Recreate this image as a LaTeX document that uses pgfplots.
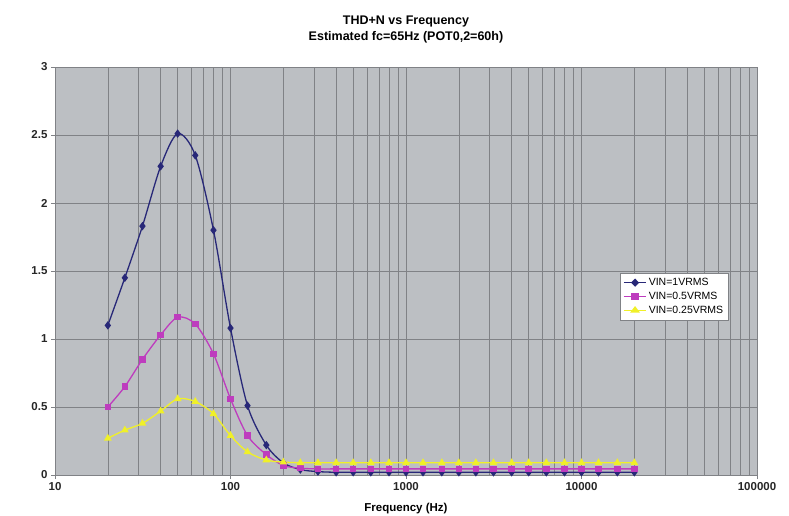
\documentclass[border=0pt]{standalone}
\usepackage{fontspec}
\setmainfont{Liberation Sans}
\usepackage{pgfplots}
\pgfplotsset{compat=1.18}
\definecolor{bgc}{RGB}{188,191,195}
\definecolor{gridc}{RGB}{128,130,134}
\definecolor{c1}{RGB}{40,40,120}
\definecolor{c2}{RGB}{190,60,190}
\definecolor{c3}{RGB}{240,240,40}
\pgfplotstableread{
f v1 v2 v3
20 1.10 0.50 0.27
25 1.45 0.65 0.33
31.5 1.83 0.85 0.38
40 2.27 1.03 0.47
50 2.51 1.16 0.56
63 2.35 1.11 0.54
80 1.80 0.89 0.45
100 1.08 0.56 0.29
125 0.51 0.29 0.17
160 0.22 0.15 0.11
200 0.09 0.07 0.095
250 0.04 0.05 0.09
315 0.025 0.045 0.09
400 0.02 0.045 0.09
500 0.02 0.045 0.09
630 0.02 0.045 0.09
800 0.02 0.045 0.09
1000 0.02 0.045 0.09
1250 0.02 0.045 0.09
1600 0.02 0.045 0.09
2000 0.02 0.045 0.09
2500 0.02 0.045 0.09
3150 0.02 0.045 0.09
4000 0.02 0.045 0.09
5000 0.02 0.045 0.09
6300 0.02 0.045 0.09
8000 0.02 0.045 0.09
10000 0.02 0.045 0.09
12500 0.02 0.045 0.09
16000 0.02 0.045 0.09
20000 0.02 0.045 0.09
}\data
\begin{document}
\begin{tikzpicture}
\path[use as bounding box] (-55pt,-41pt) rectangle (734pt,475pt);
\begin{axis}[
  at={(0,0)}, anchor=south west,
  scale only axis, width=702pt, height=408pt,
  xmode=log, xmin=10, xmax=100000, ymin=0, ymax=3,
  log basis x=10,
  xtick={10,100,1000,10000,100000},
  xticklabels={10,100,1000,10000,100000},
  minor xtick={20,30,40,50,60,70,80,90,200,300,400,500,600,700,800,900,2000,3000,4000,5000,6000,7000,8000,9000,20000,30000,40000,50000,60000,70000,80000,90000},
  ytick={0,0.5,1,1.5,2,2.5,3},
  yticklabels={0,0.5,1,1.5,2,2.5,3},
  grid=both,
  major grid style={gridc, line width=0.7pt},
  minor grid style={gridc, line width=0.6pt},
  axis background/.style={fill=bgc},
  axis line style={gridc},
  tick style={gridc},
  minor tick length=0pt,
  major tick length=4pt,
  tick pos=left,
  tick align=outside,
  ticklabel style={font=\fontsize{11.5}{13}\selectfont\bfseries, text=black!85},
  title style={align=center, font=\fontsize{12.5}{16}\selectfont\bfseries, yshift=14pt},
  title={THD+N vs Frequency\\Estimated fc=65Hz (POT0,2=60h)},
  xlabel={Frequency (Hz)},
  xlabel style={font=\fontsize{11.5}{13}\selectfont\bfseries, yshift=-6pt},
  legend style={at={(0.805,0.495)}, anchor=north west, fill=white, draw=gridc,
    font=\fontsize{10.5}{12}\selectfont, row sep=1pt, inner sep=3pt},
  legend cell align=left,
  legend image post style={xscale=1.3},
]
\addplot[c1, line width=1.3pt, smooth, mark=diamond*, mark size=3.2pt, mark options={fill=c1}] table[x=f, y=v1] {\data};
\addlegendentry{VIN=1VRMS}
\addplot[c2, line width=1.3pt, smooth, mark=square*, mark size=2.6pt, mark options={fill=c2}] table[x=f, y=v2] {\data};
\addlegendentry{VIN=0.5VRMS}
\addplot[c3, line width=1.3pt, smooth, mark=triangle*, mark size=3.2pt, mark options={fill=c3}] table[x=f, y=v3] {\data};
\addlegendentry{VIN=0.25VRMS}
\end{axis}
\end{tikzpicture}
\end{document}
